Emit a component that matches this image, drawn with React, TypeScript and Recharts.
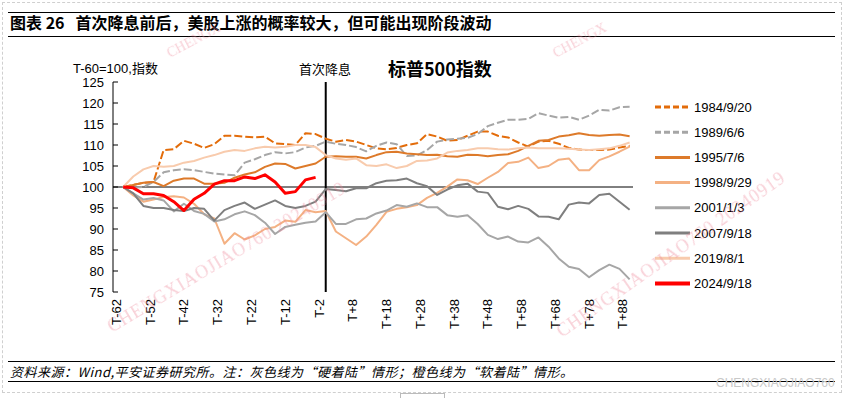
import React from 'react';
import { LineChart, Line, XAxis, YAxis, ReferenceLine } from 'recharts';

// trading days relative to the first cut (T-60 = 100)
const T = [-60, -57, -54, -51, -48, -45, -42, -39, -36, -33, -30, -27, -24, -21, -18, -15, -12, -9, -6, -3, 0, 3, 6, 9, 12, 15, 18, 21, 24, 27, 30, 33, 36, 39, 42, 45, 48, 51, 54, 57, 60, 63, 66, 69, 72, 75, 78, 81, 84, 87, 90];

const S1984 = [100, 100.5, 101, 101.2, 108.8, 109, 111, 110.3, 109.3, 110.2, 112.2, 112.2, 112, 111.8, 112, 110.4, 110.2, 110, 112.8, 112.6, 111.5, 110.8, 111.2, 110.8, 110, 109.2, 109, 109.3, 110, 110.4, 112.6, 112, 111, 111.2, 112.2, 113.2, 113.2, 112.2, 111.8, 110.6, 109.6, 110.8, 111, 110.3, 109.3, 108.9, 108.8, 108.8, 108.9, 109.4, 109.8];
const S1989 = [100, 99.8, 100, 101.2, 103.5, 104, 104.2, 104, 103.6, 103.2, 103, 102.8, 105.8, 106.6, 107.6, 108.3, 108, 108.3, 109.4, 109.8, 110.8, 110.3, 110, 109.5, 108.5, 109.8, 110.6, 110.2, 107.4, 107.5, 108.8, 110.8, 111.3, 111.5, 111.7, 112.6, 114.5, 115.3, 116, 116, 116.2, 117.6, 117, 116.5, 116.7, 116, 117, 118.4, 118.2, 119, 119.1];
const S1995 = [100, 100.5, 101, 101.2, 100.2, 101.5, 102, 102, 100.8, 100.8, 101, 102.2, 103, 103.5, 104.8, 105.6, 105.5, 104.4, 105, 105.6, 107.2, 107.3, 107.2, 107.2, 106.8, 107.6, 108.3, 108.4, 108, 107.8, 107.6, 107.7, 107.3, 107.2, 107.7, 107.6, 107.3, 107.6, 107.8, 108.6, 109.8, 111, 111.2, 112, 112.3, 112.8, 112.4, 112.2, 112.4, 112.5, 112.1];
const S1998 = [100, 98, 96.5, 97, 97.6, 97.8, 97.5, 96, 93.5, 92.5, 86.5, 89, 87.5, 88.5, 90, 90.5, 92, 91.7, 94.5, 94, 94.3, 89.4, 87.8, 86.2, 88.2, 91, 94.1, 94.8, 95.2, 95.7, 97.4, 98.6, 100.1, 101.8, 101.6, 100.7, 102.2, 103.6, 105.7, 106, 107, 104.5, 105, 106.5, 106.8, 104, 104, 106.4, 107.3, 108.4, 109.6];
const S2001 = [100, 98.5, 97, 97.4, 96.8, 94.2, 96, 94.3, 93.6, 91.8, 92.3, 93.5, 94.2, 93.3, 91.5, 88.8, 90.5, 91, 91.5, 91.8, 94, 91.2, 91.2, 92.3, 92.5, 93.7, 94.4, 95.7, 95.3, 96.1, 95.2, 95.2, 93.3, 92.9, 93.3, 91.2, 88.6, 87.6, 88.2, 87, 86.8, 88, 85.8, 83, 81, 80.5, 78.5, 80.2, 81.5, 80.5, 78];
const S2007 = [100, 98.5, 95.5, 95, 95, 94.5, 94.3, 95, 94.8, 92, 94.5, 95.5, 96.3, 94.8, 95.8, 96.8, 95.5, 95, 95.5, 96.5, 99.5, 99.3, 99, 99.7, 99.7, 100.9, 101.5, 101.6, 102, 100.9, 100.2, 98.1, 99.4, 100.4, 100.8, 98.9, 98.6, 95.3, 94.7, 95.5, 94.8, 93, 92.9, 92.3, 95.8, 96.3, 96.1, 98.1, 98.4, 96.5, 94.6];
const S2019 = [100, 102.5, 104.2, 105, 104.8, 105, 105.8, 106.2, 107, 107.6, 108.4, 108.8, 108.6, 109.2, 109.6, 109.4, 109.6, 110, 110, 109.5, 107.6, 106.8, 106.5, 106.8, 105.2, 105, 105.4, 104.5, 105, 106.2, 106.3, 106.8, 108.2, 108.6, 108.8, 109.2, 109.2, 109, 108.9, 109.2, 109.4, 109.2, 109.2, 109.2, 109.1, 108.9, 108.8, 109, 109.2, 109.8, 110.6];
const S2024 = [100, 99.8, 98.4, 98.4, 98, 96.5, 94.4, 97.1, 98.5, 100.7, 101.5, 101.5, 102.4, 102, 102.9, 101.2, 98.5, 98.9, 101.7, 102.3];

const X_TICKS = [-62, -52, -42, -32, -22, -12, -2, 8, 18, 28, 38, 48, 58, 68, 78, 88];
const Y_TICKS = [75, 80, 85, 90, 95, 100, 105, 110, 115, 120, 125];

const SERIES = [
  { key: 's1984', name: '1984/9/20', values: S1984, color: '#E36C0A', dash: '8 3', width: 2 },
  { key: 's1989', name: '1989/6/6', values: S1989, color: '#A6A6A6', dash: '8 3', width: 2 },
  { key: 's1995', name: '1995/7/6', values: S1995, color: '#DD7A2A', dash: undefined, width: 2 },
  { key: 's1998', name: '1998/9/29', values: S1998, color: '#F4B183', dash: undefined, width: 2 },
  { key: 's2001', name: '2001/1/3', values: S2001, color: '#A6A6A6', dash: undefined, width: 2 },
  { key: 's2007', name: '2007/9/18', values: S2007, color: '#7F7F7F', dash: undefined, width: 2 },
  { key: 's2019', name: '2019/8/1', values: S2019, color: '#F8CBAD', dash: undefined, width: 2 },
  { key: 's2024', name: '2024/9/18', values: S2024, color: '#FF0000', dash: undefined, width: 3 },
];

const rows = T.map((t, i) => {
  const r: Record<string, number> = { t };
  SERIES.forEach((s) => {
    if (i < s.values.length) r[s.key] = s.values[i];
  });
  return r;
});

const LATIN = '"Liberation Sans", Arial, sans-serif';
const CJK = '"Noto Sans CJK SC", "Liberation Sans", sans-serif';

const xLabel = (t: number) => (t < 0 ? `T${t}` : `T+${t}`);

function XTick(props: any) {
  const { x, y, payload } = props;
  return (
    <g transform={`translate(${x},${y})`}>
      <text transform="rotate(-90)" textAnchor="end" dy="0.35em" fontSize={13} fontFamily={LATIN} fill="#000">
        {xLabel(payload.value)}
      </text>
    </g>
  );
}

function YTick(props: any) {
  const { x, y, payload } = props;
  return (
    <g>
      <line x1={x + 9} x2={x + 14} y1={y} y2={y} stroke="#000" strokeWidth={1} />
      <text x={x} y={y} textAnchor="end" dy="0.35em" fontSize={13} fontFamily={LATIN} fill="#000">
        {payload.value}
      </text>
    </g>
  );
}

const abs = (left: number, top: number, extra: React.CSSProperties = {}): React.CSSProperties => ({
  position: 'absolute',
  left,
  top,
  whiteSpace: 'nowrap',
  ...extra,
});

export default function App() {
  return (
    <div style={{ position: 'absolute', left: 0, top: 0, width: 843, height: 398, background: '#fff', overflow: 'hidden' }}>
      {/* outer dotted frame */}
      <div style={abs(2, 2, { width: 838, height: 389, border: '1px dashed #cfcfcf' })} />
      <div style={abs(400, 393, { width: 43, height: 8, borderLeft: '1px solid #bbb', borderRight: '1px solid #bbb', borderTop: '1px solid #bbb' })} />

      {/* header */}
      <div style={abs(8, 12, { width: 827, height: 0, borderTop: '1.5px solid #000' })} />
      <div style={abs(10, 12, { fontFamily: CJK, fontWeight: 700, fontSize: 16, lineHeight: '20px', color: '#000' })}>
        图表 26&nbsp;&nbsp;&nbsp;首次降息前后，美股上涨的概率较大，但可能出现阶段波动
      </div>
      <div style={abs(8, 36, { width: 827, height: 0, borderTop: '1.5px solid #000' })} />

      {/* chart texts */}
      <div style={abs(73, 60, { fontFamily: LATIN, fontSize: 13, lineHeight: '16px' })}>
        T-60=100,<span style={{ fontFamily: CJK }}>指数</span>
      </div>
      <div style={abs(299, 61, { fontFamily: CJK, fontSize: 13, lineHeight: '16px' })}>首次降息</div>
      <div style={abs(388, 57, { fontFamily: CJK, fontWeight: 700, fontSize: 18, lineHeight: '22px' })}>标普500指数</div>

      <div style={abs(0, 0)}>
        <LineChart width={843} height={398} data={rows} margin={{ top: 82, right: 210, bottom: 76, left: 73 }}>
          <XAxis
            dataKey="t"
            type="number"
            domain={[-63, 91]}
            ticks={X_TICKS}
            interval={0}
            axisLine={false}
            tickLine={false}
            tickSize={0}
            tickMargin={7}
            height={30}
            tick={<XTick />}
          />
          <YAxis
            type="number"
            domain={[75, 125]}
            ticks={Y_TICKS}
            interval={0}
            width={40}
            axisLine={{ stroke: '#000', strokeWidth: 1 }}
            tickLine={false}
            tickSize={0}
            tickMargin={9}
            tick={<YTick />}
          />
          <ReferenceLine y={100} stroke="#000" strokeWidth={1} />
          <ReferenceLine x={0} stroke="#000" strokeWidth={2} />
          {SERIES.map((s) => (
            <Line
              key={s.key}
              type="linear"
              dataKey={s.key}
              name={s.name}
              stroke={s.color}
              strokeWidth={s.width}
              strokeDasharray={s.dash}
              strokeLinejoin="round"
              dot={false}
              activeDot={false}
              isAnimationActive={false}
            />
          ))}
        </LineChart>
      </div>

      {/* legend */}
      <svg style={abs(0, 0, { pointerEvents: 'none' })} width={843} height={398}>
        {SERIES.map((s, i) => {
          const y = 107 + i * 25.2;
          return (
            <g key={s.key}>
              <line x1={655} x2={690} y1={y} y2={y} stroke={s.color} strokeWidth={s.key === 's2024' ? 4 : 3} strokeDasharray={s.dash ? '6 3' : undefined} />
              <text x={694} y={y} dy="0.35em" fontSize={13} fontFamily={LATIN} fill="#000">
                {s.name}
              </text>
            </g>
          );
        })}
        {/* watermarks */}
        <g fontFamily='"Liberation Serif", serif' fontSize={18} fill="#EE8A9C" opacity={0.4} letterSpacing={1}>
          <text transform="translate(112,333) rotate(-31)">CHENGXIAOJIAO760 20240919</text>
          <text transform="translate(562,338) rotate(-35)">CHENGXIAOJIAO760 20240919</text>
        </g>
        <g fontFamily='"Liberation Serif", serif' fontSize={14} fill="#EE8A9C" opacity={0.4}>
          <text transform="translate(170,58) rotate(-28)">CHENGX</text>
          <text transform="translate(556,58) rotate(-28)">CHENGX</text>
        </g>
      </svg>

      {/* footer */}
      <div style={abs(8, 361, { width: 827, height: 0, borderTop: '1.5px solid #000' })} />
      <div style={abs(10, 364, { fontFamily: CJK, fontStyle: 'italic', fontSize: 13, lineHeight: '16px', letterSpacing: 0.5 })}>
        资料来源：Wind,平安证券研究所。注：灰色线为“硬着陆”情形；橙色线为“软着陆”情形。
      </div>
      <div style={abs(8, 381, { width: 827, height: 0, borderTop: '1.5px solid #000' })} />
      <div style={abs(716, 376, { fontFamily: LATIN, fontSize: 12, color: '#c8c8c8' })}>CHENGXIAOJIAO760</div>
    </div>
  );
}
